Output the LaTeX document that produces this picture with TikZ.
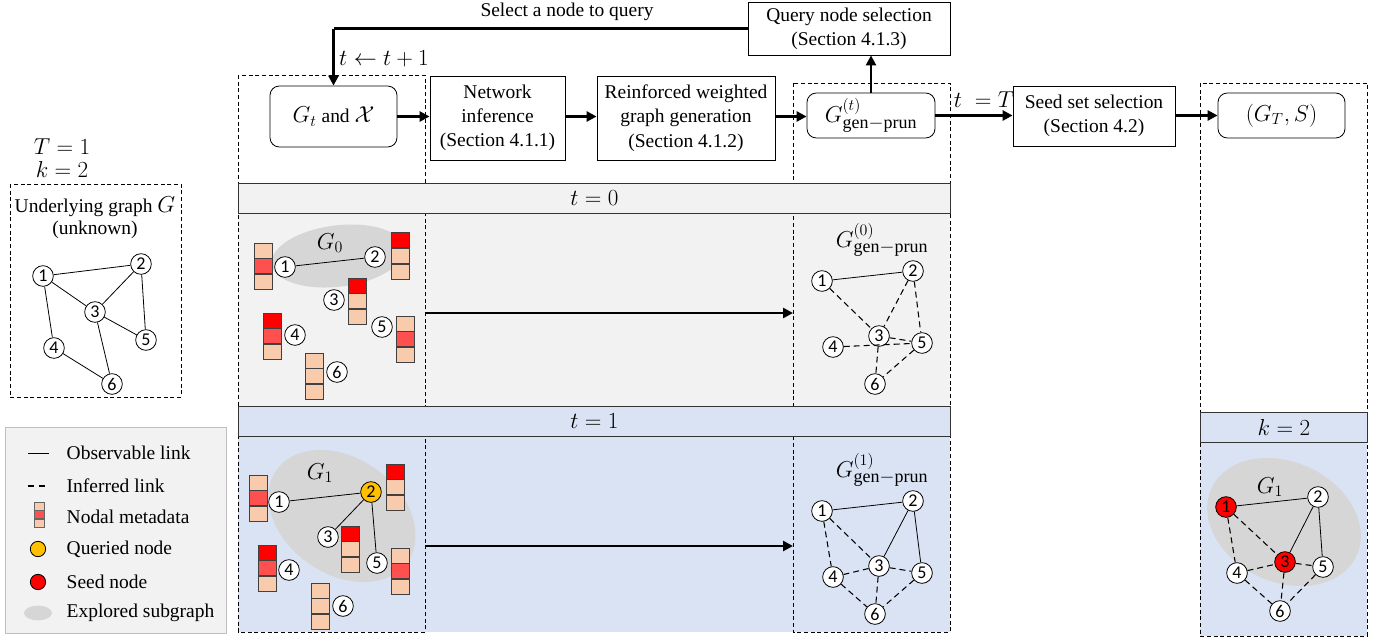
\documentclass[tikz,border=0pt]{standalone}
\usepackage{fontspec}
\setmainfont{Liberation Serif}
\newfontfamily\numfont{Carlito}
\usetikzlibrary{arrows.meta,shapes.geometric,calc}
\definecolor{panelgray}{HTML}{F2F2F2}
\definecolor{panelblue}{HTML}{DAE3F3}
\definecolor{mdlight}{HTML}{F8CBAD}
\definecolor{mdmid}{HTML}{FF5050}
\definecolor{mdred}{HTML}{FF0000}
\definecolor{qorange}{HTML}{FFC000}
\definecolor{exgray}{HTML}{D6D6D6}
\definecolor{legborder}{HTML}{BFBFBF}

\newcommand\mdbar[6]{%
  \node[mdcell,fill=#4] (#1-a) at (#2,#3) {};
  \node[mdcell,fill=#5,anchor=north] (#1-b) at (#1-a.south) {};
  \node[mdcell,fill=#6,anchor=north] (#1-c) at (#1-b.south) {};
}
\newcommand\Mth[1]{{\fontsize{16.5}{19}\selectfont$#1$}}
\newcommand\Ggp[1]{{\fontsize{16.5}{19}\selectfont$G^{(#1)}_{\mbox{\fontsize{13.5}{14}\selectfont gen$-$prun}}$}}

\begin{document}
\begin{tikzpicture}[x=0.75pt,y=-0.75pt,
  every node/.style={font=\fontsize{14.6}{18.2}\selectfont},
  gnode/.style={circle,draw,fill=white,minimum size=15.5pt,inner sep=0pt,line width=0.6pt,
    font=\numfont\fontsize{13.5}{13.5}\selectfont},
  procbox/.style={draw,line width=0.6pt,align=center,inner sep=0pt},
  roundbox/.style={procbox,rounded corners=7pt},
  flow/.style={line width=2pt,-{Triangle[length=7.5pt,width=7.5pt]}},
  obs/.style={line width=0.6pt},
  inf/.style={line width=0.8pt,dash pattern=on 4.5pt off 3pt},
  colbox/.style={draw,dashed,line width=0.6pt,dash pattern=on 3pt off 2pt},
  band/.style={draw=black!80,line width=0.6pt,minimum height=22.5pt,inner sep=0pt},
  mdcell/.style={draw=black!75,line width=0.6pt,minimum width=13.5pt,minimum height=11.25pt,inner sep=0pt},
  explored/.style={ellipse,fill=exgray,inner sep=0pt},
]
\useasboundingbox (0,0) rectangle (1383,640);

% ---------- left: underlying graph ----------
\node (Tlab) at (62,147) {\Mth{T=1}};
\node (klab) at (62,169) {\Mth{k=2}};
\draw[colbox] (10,184) rectangle (181,397);
\node (ulab1) at (95,207) {Underlying graph \Mth{G}};
\node (ulab2) at (95,230) {(unknown)};
\node[gnode] (u1) at (43,276) {1};
\node[gnode] (u2) at (141,264) {2};
\node[gnode] (u3) at (95,312) {3};
\node[gnode] (u4) at (54,348) {4};
\node[gnode] (u5) at (146,340) {5};
\node[gnode] (u6) at (112,384) {6};
\draw[obs] (u1)--(u2) (u1)--(u3) (u1)--(u4) (u2)--(u3) (u2)--(u5) (u3)--(u5) (u3)--(u6) (u4)--(u6);

% ---------- legend ----------
\draw[legborder,fill=panelgray,line width=0.6pt] (5,427) rectangle (226,633);
\coordinate (lo1) at (28,453); \coordinate (lo2) at (49,453);
\draw[obs] (lo1)--(lo2);
\coordinate (li1) at (28,486); \coordinate (li2) at (49,486);
\draw[line width=0.8pt,dash pattern=on 4.5pt off 3.5pt] (li1)--(li2);
\node[draw=black!60,fill=mdlight,minimum width=7.5pt,minimum height=6pt,inner sep=0pt,line width=0.4pt] (lm1) at (39,506) {};
\node[draw=black!60,fill=mdmid,minimum width=7.5pt,minimum height=6pt,inner sep=0pt,line width=0.4pt,anchor=north] (lm2) at (lm1.south) {};
\node[draw=black!60,fill=mdlight,minimum width=7.5pt,minimum height=6pt,inner sep=0pt,line width=0.4pt,anchor=north] (lm3) at (lm2.south) {};
\node[circle,draw,fill=qorange,minimum size=11.5pt,inner sep=0pt,line width=0.6pt] (lq) at (38,549) {};
\node[circle,draw,fill=mdred,minimum size=11.5pt,inner sep=0pt,line width=0.6pt] (ls) at (38,582) {};
\node[explored,minimum width=21pt,minimum height=11pt] (le) at (38,613) {};
\node[anchor=west] (lt1) at (62,453) {Observable link};
\node[anchor=west] (lt2) at (62,486) {Inferred link};
\node[anchor=west] (lt3) at (62,517) {Nodal metadata};
\node[anchor=west] (lt4) at (62,549) {Queried node};
\node[anchor=west] (lt5) at (62,582) {Seed node};
\node[anchor=west] (lt6) at (62,613) {Explored subgraph};

% ---------- panel fills ----------
\fill[panelgray] (238,213) rectangle (950,406);
\fill[panelblue] (238,436) rectangle (950,632);
\fill[panelblue] (1200,442) rectangle (1367,636);

% ---------- dashed column boxes ----------
\draw[colbox] (238,75) rectangle (425,632);
\draw[colbox] (793,83) rectangle (950,632);
\draw[colbox] (1200,83) rectangle (1367,636);

% ---------- bands ----------
\node[band,fill=panelgray,minimum width=534pt,anchor=north west] (band0) at (238,183) {\Mth{t=0}};
\node[band,fill=panelblue,minimum width=534pt,anchor=north west] (band1) at (238,406) {\Mth{t=1}};
\node[band,fill=panelblue,minimum width=125.25pt,anchor=north west] (bandk) at (1200,412) {\Mth{k=2}};

% ---------- top flow ----------
\node[roundbox,minimum width=95.25pt,minimum height=45.75pt] (gt) at (333.5,116.5) {\Mth{G_t} and \Mth{\mathcal{X}}};
\node[procbox,minimum width=101.25pt,minimum height=63pt] (ni) at (497.5,118) {Network\\inference\\(Section 4.1.1)};
\node[procbox,minimum width=133.5pt,minimum height=63pt] (rw) at (686,118) {Reinforced weighted\\graph generation\\(Section 4.1.2)};
\node[roundbox,minimum width=96pt,minimum height=33.75pt] (gp) at (871,115.5) {\Ggp{t}};
\node[procbox,minimum width=151.5pt,minimum height=39.75pt] (qs) at (849,28.5) {Query node selection\\(Section 4.1.3)};
\node[procbox,minimum width=121.5pt,minimum height=45pt] (ss) at (1094,116) {Seed set selection\\(Section 4.2)};
\node[roundbox,minimum width=95.25pt,minimum height=33.75pt] (gts) at (1281.5,115.5) {\Mth{(G_T,S)}};

\draw[flow] (gt.east) -- (ni.west |- gt.east);
\draw[flow] (ni.east |- gt.east) -- (rw.west |- gt.east);
\draw[flow] (rw.east |- gt.east) -- (gp.west |- gt.east);
\draw[flow] (gp.east) -- (ss.west |- gp.east);
\draw[flow] (ss.east |- gts.west) -- (gts.west);
\draw[flow] (gp.north) -- (qs.south -| gp.north);
\coordinate (fbcorner) at (333.5,28.5);
\draw[flow,-] (qs.west) -- (fbcorner);
\draw[flow] (fbcorner) -- (gt.north);
\node[anchor=south] (sellab) at (567,25) {Select a node to query};
\node (tinc) at (384,59) {\Mth{t\leftarrow t+1}};
\node (teqT) at (984,100) {\Mth{t\;=T}};

% ---------- t = 0 panel ----------
\node[explored,minimum width=100pt,minimum height=46pt,rotate=7] (ex0) at (338,256) {};
\node (g0lab) at (330,243) {\Mth{G_0}};
\node[gnode] (a1) at (285,267) {1};
\node[gnode] (a2) at (375,257) {2};
\node[gnode] (a3) at (334,300) {3};
\node[gnode] (a4) at (295,335) {4};
\node[gnode] (a5) at (382,327) {5};
\node[gnode] (a6) at (337,372) {6};
\draw[obs] (a1)--(a2);
\mdbar{m01}{263}{250.5}{mdlight}{mdmid}{mdlight}
\mdbar{m02}{400}{240}{mdred}{mdlight}{mdlight}
\mdbar{m03}{357}{285.5}{mdred}{mdlight}{mdlight}
\mdbar{m04}{272}{320.5}{mdred}{mdmid}{mdlight}
\mdbar{m05}{405.5}{323.5}{mdlight}{mdmid}{mdlight}
\mdbar{m06}{314.5}{360.5}{mdlight}{mdlight}{mdlight}

\coordinate (p0s) at (425,313);
\coordinate (p0e) at (793,313);
\draw[flow] (p0s) -- (p0e);

\node (c0lab) at (882,240) {\Ggp{0}};
\node[gnode] (c1) at (822,281) {1};
\node[gnode] (c2) at (913,271) {2};
\node[gnode] (c3) at (879,336) {3};
\node[gnode] (c4) at (833,347) {4};
\node[gnode] (c5) at (922,343) {5};
\node[gnode] (c6) at (875,384) {6};
\draw[obs] (c1)--(c2);
\draw[inf] (c1)--(c3) (c2)--(c3) (c2)--(c5) (c3)--(c5) (c4)--(c5) (c3)--(c6) (c5)--(c6);

% ---------- t = 1 panel ----------
\node[explored,minimum width=120pt,minimum height=87pt,rotate=-35] (ex1) at (342,516) {};
\node (g1lab) at (320,473) {\Mth{G_1}};
\node[gnode] (b1) at (279,502) {1};
\node[gnode,fill=qorange] (b2) at (371,492) {2};
\node[gnode] (b3) at (328,537) {3};
\node[gnode] (b4) at (289,570) {4};
\node[gnode] (b5) at (377,563) {5};
\node[gnode] (b6) at (343,606) {6};
\draw[obs] (b1)--(b2) (b2)--(b3) (b2)--(b5);
\mdbar{m11}{258}{482.5}{mdlight}{mdmid}{mdlight}
\mdbar{m12}{395}{471.5}{mdred}{mdlight}{mdlight}
\mdbar{m13}{350}{533.5}{mdred}{mdlight}{mdlight}
\mdbar{m14}{267}{552.5}{mdred}{mdmid}{mdlight}
\mdbar{m15}{400}{555.5}{mdlight}{mdmid}{mdlight}
\mdbar{m16}{320}{590.5}{mdlight}{mdlight}{mdlight}

\coordinate (p1s) at (425,546);
\coordinate (p1e) at (793,546);
\draw[flow] (p1s) -- (p1e);

\node (d0lab) at (882,470) {\Ggp{1}};
\node[gnode] (d1) at (822,511) {1};
\node[gnode] (d2) at (913,501) {2};
\node[gnode] (d3) at (879,566) {3};
\node[gnode] (d4) at (833,577) {4};
\node[gnode] (d5) at (922,573) {5};
\node[gnode] (d6) at (875,614) {6};
\draw[obs] (d1)--(d2) (d2)--(d3) (d2)--(d5);
\draw[inf] (d1)--(d3) (d1)--(d4) (d4)--(d3) (d3)--(d5) (d4)--(d6) (d3)--(d6) (d5)--(d6);

% ---------- right panel ----------
\node[explored,minimum width=120pt,minimum height=90pt,rotate=-25] (ex2) at (1284,522) {};
\node (g1rlab) at (1270,487) {\Mth{G_1}};
\node[gnode,fill=mdred] (e1) at (1226,507) {1};
\node[gnode] (e2) at (1318,497) {2};
\node[gnode,fill=mdred] (e3) at (1285,562) {3};
\node[gnode] (e4) at (1237,573) {4};
\node[gnode] (e5) at (1323,567) {5};
\node[gnode] (e6) at (1280,611) {6};
\draw[obs] (e1)--(e2) (e2)--(e3) (e2)--(e5);
\draw[inf] (e1)--(e3) (e1)--(e4) (e4)--(e3) (e3)--(e5) (e4)--(e6) (e3)--(e6) (e5)--(e6);
\end{tikzpicture}
\end{document}
